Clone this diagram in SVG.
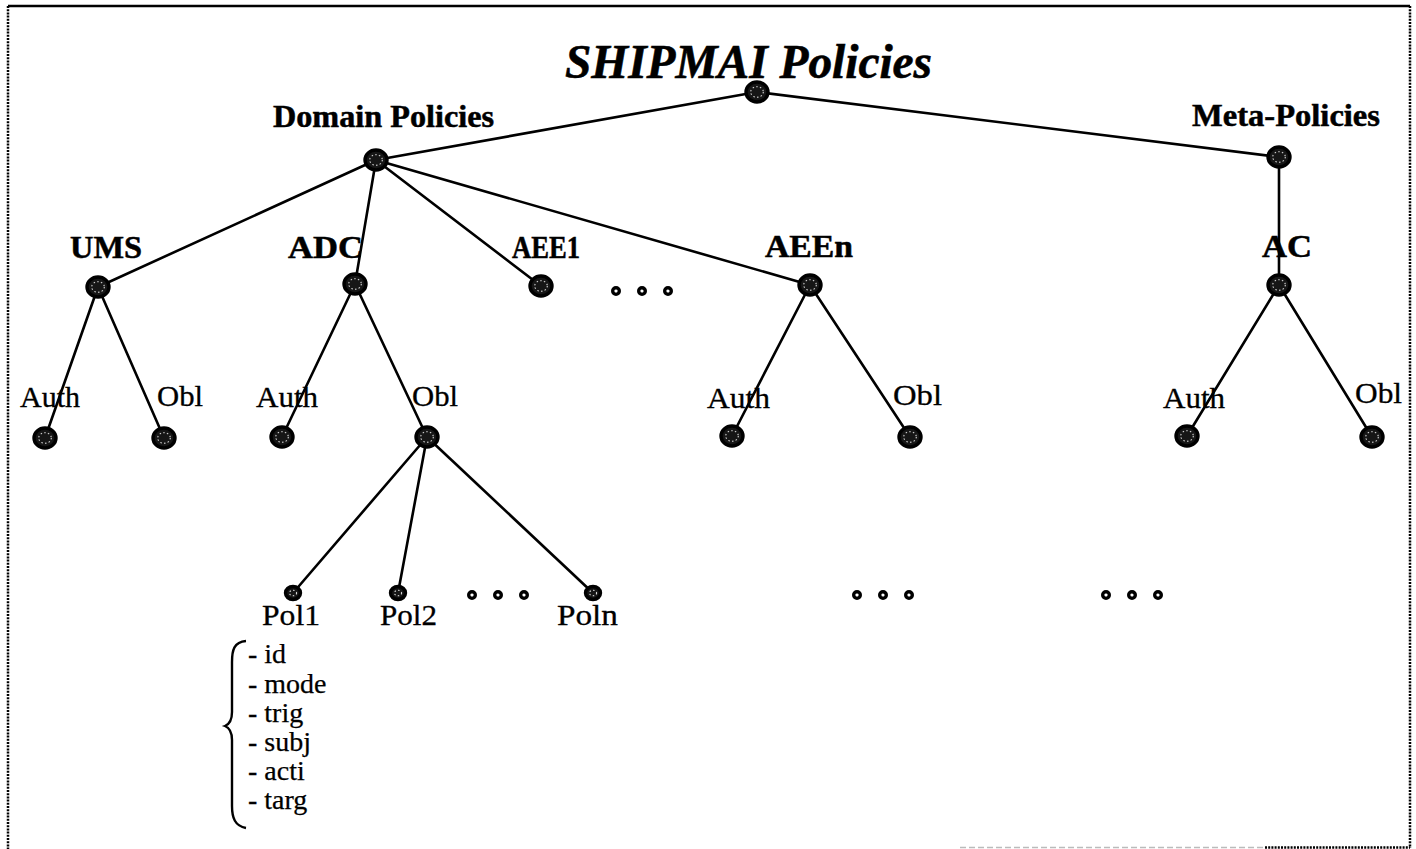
<svg xmlns="http://www.w3.org/2000/svg" width="1416" height="849" viewBox="0 0 1416 849">
  <style>
    .edge { stroke: #000; stroke-width: 2.6; fill: none; stroke-linecap: round; }
    .node-outer { fill: #161616; stroke: #000; stroke-width: 3.4; }
    .node-inner { fill: none; stroke: #d8d8d8; stroke-width: 1.1; stroke-dasharray: 1.5 2.2; }
    .dot { fill: #fff; stroke: #000; stroke-width: 3.4; }
    .title { font-family: "Liberation Serif", "Times New Roman", serif; font-weight: bold; font-style: italic; font-size: 48px; fill: #000; stroke: #000; stroke-width: 0.6; }
    .head { font-family: "Liberation Serif", "Times New Roman", serif; font-weight: bold; font-size: 31px; fill: #000; stroke: #000; stroke-width: 0.5; }
    .lbl { font-family: "Liberation Serif", "Times New Roman", serif; font-size: 30px; fill: #000; stroke: #000; stroke-width: 0.3; }
    .item { font-family: "Liberation Serif", "Times New Roman", serif; font-size: 28px; fill: #000; stroke: #000; stroke-width: 0.25; }
    .frame { stroke: #000; stroke-width: 2.5; fill: none; stroke-dasharray: 2 1.2; }
  </style>
  <defs>
    <g id="node">
      <ellipse class="node-outer" cx="0" cy="0" rx="11" ry="10"/>
      <ellipse class="node-inner" cx="0" cy="0" rx="6.3" ry="5.3"/>
    </g>
    <g id="small-node">
      <ellipse class="node-outer" cx="0" cy="0" rx="7.5" ry="6.5" stroke-width="2.8"/>
      <ellipse class="node-inner" cx="0" cy="0" rx="3.6" ry="2.8"/>
    </g>
    <g id="ellipsis">
      <circle class="dot" cx="0" cy="0" r="3.3"/>
      <circle class="dot" cx="26" cy="0" r="3.3"/>
      <circle class="dot" cx="52" cy="0" r="3.3"/>
    </g>
  </defs>

  <rect width="1416" height="849" fill="#fff"/>

  <!-- dotted frame -->
  <g id="frame">
    <line class="frame" x1="8" y1="6" x2="8" y2="849"/>
    <line x1="8" y1="6" x2="1410" y2="6" stroke="#000" stroke-width="2.5"/>
    <line class="frame" x1="1410" y1="6" x2="1410" y2="848"/>
    <line x1="960" y1="847.5" x2="1265" y2="847.5" stroke="#bbb" stroke-width="1.5" stroke-dasharray="6 3"/>
    <line class="frame" x1="1265" y1="847.5" x2="1410" y2="847.5"/>
  </g>

  <!-- tree edges -->
  <g id="connectors">
    <line class="edge" x1="757" y1="92" x2="376" y2="160"/>
    <line class="edge" x1="757" y1="92" x2="1279" y2="157"/>
    <line class="edge" x1="376" y1="160" x2="98" y2="287"/>
    <line class="edge" x1="376" y1="160" x2="355" y2="284"/>
    <line class="edge" x1="376" y1="160" x2="541" y2="286"/>
    <line class="edge" x1="376" y1="160" x2="810" y2="285"/>
    <line class="edge" x1="1279" y1="157" x2="1279" y2="285"/>
    <line class="edge" x1="98" y1="287" x2="45" y2="438"/>
    <line class="edge" x1="98" y1="287" x2="164" y2="438"/>
    <line class="edge" x1="355" y1="284" x2="282" y2="437"/>
    <line class="edge" x1="355" y1="284" x2="427" y2="437"/>
    <line class="edge" x1="427" y1="437" x2="293" y2="593"/>
    <line class="edge" x1="427" y1="437" x2="398" y2="593"/>
    <line class="edge" x1="427" y1="437" x2="593" y2="593"/>
    <line class="edge" x1="810" y1="285" x2="732" y2="436"/>
    <line class="edge" x1="810" y1="285" x2="910" y2="437"/>
    <line class="edge" x1="1279" y1="285" x2="1187" y2="436"/>
    <line class="edge" x1="1279" y1="285" x2="1372" y2="437"/>
  </g>

  <!-- root -->
  <g id="root">
    <text class="title" x="565" y="78" textLength="367" lengthAdjust="spacingAndGlyphs">SHIPMAI Policies</text>
    <use href="#node" x="757" y="92"/>
  </g>

  <g id="domain-policies">
    <text class="head" x="273" y="127" textLength="221" lengthAdjust="spacingAndGlyphs">Domain Policies</text>
    <use href="#node" x="376" y="160"/>
  </g>

  <g id="meta-policies">
    <text class="head" x="1192" y="126" textLength="188" lengthAdjust="spacingAndGlyphs">Meta-Policies</text>
    <use href="#node" x="1279" y="157"/>
  </g>

  <g id="ums">
    <text class="head" x="70" y="258" textLength="72" lengthAdjust="spacingAndGlyphs">UMS</text>
    <use href="#node" x="98" y="287"/>
  </g>
  <g id="ums-auth">
    <text class="lbl" x="20" y="407" textLength="60" lengthAdjust="spacingAndGlyphs">Auth</text>
    <use href="#node" x="45" y="438"/>
  </g>
  <g id="ums-obl">
    <text class="lbl" x="157" y="406" textLength="46" lengthAdjust="spacingAndGlyphs">Obl</text>
    <use href="#node" x="164" y="438"/>
  </g>

  <g id="adc">
    <text class="head" x="288" y="258" textLength="75" lengthAdjust="spacingAndGlyphs">ADC</text>
    <use href="#node" x="355" y="284"/>
  </g>
  <g id="adc-auth">
    <text class="lbl" x="256" y="407" textLength="62" lengthAdjust="spacingAndGlyphs">Auth</text>
    <use href="#node" x="282" y="437"/>
  </g>
  <g id="adc-obl">
    <text class="lbl" x="412" y="406" textLength="46" lengthAdjust="spacingAndGlyphs">Obl</text>
    <use href="#node" x="427" y="437"/>
  </g>

  <g id="pol1">
    <use href="#small-node" x="293" y="593"/>
    <text class="lbl" x="262" y="625" textLength="58" lengthAdjust="spacingAndGlyphs">Pol1</text>
  </g>
  <g id="pol2">
    <use href="#small-node" x="398" y="593"/>
    <text class="lbl" x="380" y="625" textLength="57" lengthAdjust="spacingAndGlyphs">Pol2</text>
  </g>
  <g id="poln">
    <use href="#small-node" x="593" y="593"/>
    <text class="lbl" x="557" y="625" textLength="61" lengthAdjust="spacingAndGlyphs">Poln</text>
  </g>

  <!-- policy attribute list -->
  <g id="policy-fields">
    <path d="M246,641 C234,642 232,650 232,662 L232,712 C232,720 230,724 225,726 C230,728 232,732 232,740 L232,806 C232,818 235,826 246,828" fill="none" stroke="#000" stroke-width="2.4"/>
    <text class="item" x="248" y="663">- id</text>
    <text class="item" x="248" y="693">- mode</text>
    <text class="item" x="248" y="722">- trig</text>
    <text class="item" x="248" y="751">- subj</text>
    <text class="item" x="248" y="780">- acti</text>
    <text class="item" x="248" y="809">- targ</text>
  </g>

  <g id="aee1">
    <text class="head" x="512" y="258" textLength="68" lengthAdjust="spacingAndGlyphs">AEE1</text>
    <use href="#node" x="541" y="286"/>
  </g>

  <g id="aeen">
    <text class="head" x="765" y="257" textLength="88" lengthAdjust="spacingAndGlyphs">AEEn</text>
    <use href="#node" x="810" y="285"/>
  </g>
  <g id="aeen-auth">
    <text class="lbl" x="707" y="408" textLength="63" lengthAdjust="spacingAndGlyphs">Auth</text>
    <use href="#node" x="732" y="436"/>
  </g>
  <g id="aeen-obl">
    <text class="lbl" x="893" y="405" textLength="49" lengthAdjust="spacingAndGlyphs">Obl</text>
    <use href="#node" x="910" y="437"/>
  </g>

  <g id="ac">
    <text class="head" x="1262" y="257" textLength="50" lengthAdjust="spacingAndGlyphs">AC</text>
    <use href="#node" x="1279" y="285"/>
  </g>
  <g id="ac-auth">
    <text class="lbl" x="1163" y="408" textLength="62" lengthAdjust="spacingAndGlyphs">Auth</text>
    <use href="#node" x="1187" y="436"/>
  </g>
  <g id="ac-obl">
    <text class="lbl" x="1355" y="403" textLength="47" lengthAdjust="spacingAndGlyphs">Obl</text>
    <use href="#node" x="1372" y="437"/>
  </g>

  <!-- ellipses for omitted siblings -->
  <g id="more">
    <use href="#ellipsis" x="616" y="291"/>
    <use href="#ellipsis" x="472" y="595"/>
    <use href="#ellipsis" x="857" y="595"/>
    <use href="#ellipsis" x="1106" y="595"/>
  </g>
</svg>
